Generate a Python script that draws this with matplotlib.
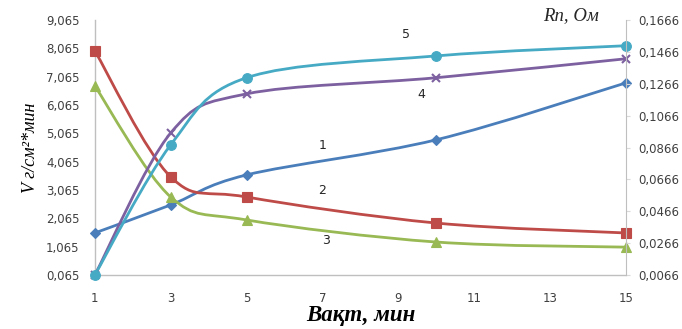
import matplotlib
matplotlib.use("Agg")
import matplotlib.pyplot as plt
from matplotlib.path import Path
from matplotlib.patches import PathPatch
import numpy as np

# --- данные ---------------------------------------------------------------
t = [1, 3, 5, 10, 15]
v1 = [1.55, 2.54, 3.60, 4.84, 6.85]
v2 = [7.98, 3.53, 2.82, 1.90, 1.55]
v3 = [6.74, 2.82, 2.01, 1.23, 1.05]
v4 = [0.065, 5.08, 6.46, 7.03, 7.70]
v5 = [0.065, 4.66, 7.03, 7.80, 8.16]

series = [
    ("1", v1, "#4A7EBB", "D", 5),
    ("2", v2, "#BE4B48", "s", 6.5),
    ("3", v3, "#98B954", "^", 6.5),
    ("4", v4, "#7D60A0", "x", 6),
    ("5", v5, "#46AAC5", "o", 7),
]
# подписи кривых: (номер, t, V)
labels_pos = [("5", 9.2, 8.55), ("4", 9.6, 6.45), ("1", 7.0, 4.65),
              ("2", 7.0, 3.05), ("3", 7.1, 1.30)]

left_ticks = [0.065 + i for i in range(10)]
right_ticks = [0.0066 + 0.02 * i for i in range(9)]


def smooth_path(x, y):
    # сглаженная линия как в Excel: кривые Безье по Катмулл-Рому
    p = np.column_stack([x, y]).astype(float)
    pts = [p[0]]
    codes = [Path.MOVETO]
    n = len(p)
    for i in range(n - 1):
        p0 = p[i - 1] if i > 0 else p[i]
        p3 = p[i + 2] if i + 2 < n else p[i + 1]
        c1 = p[i] + (p[i + 1] - p0) / 6.0
        c2 = p[i + 1] - (p3 - p[i]) / 6.0
        pts += [c1, c2, p[i + 1]]
        codes += [Path.CURVE4] * 3
    return Path(pts, codes)


fig = plt.figure(figsize=(6.82, 3.29), dpi=100)
ax = fig.add_axes([0.139, 0.164, 0.779, 0.775])

for name, vals, col, mk, ms in series:
    ax.add_patch(PathPatch(smooth_path(t, vals), fill=False, edgecolor=col,
                           lw=2.0, zorder=3))
    ax.plot(t, vals, ls="none", marker=mk, ms=ms, color=col,
            mec=col, mew=1.5 if mk == "x" else 0.8, zorder=4, clip_on=False)

for txt, xx, yy in labels_pos:
    ax.text(xx, yy, txt, fontsize=9, color="#262626", ha="center", va="center")

ax.set_xlim(1, 15)
ax.set_ylim(0.065, 9.065)
ax.set_xticks(range(1, 16, 2))
ax.set_yticks(left_ticks)
ax.set_yticklabels([f"{v:.3f}".replace(".", ",") for v in left_ticks])

for s in ["top", "right"]:
    ax.spines[s].set_visible(False)
for s in ["left", "bottom"]:
    ax.spines[s].set_color("#BFBFBF")
    ax.spines[s].set_linewidth(1.0)
ax.tick_params(axis="both", length=0, labelsize=8.5, labelcolor="#404040")
ax.tick_params(axis="y", pad=11)
ax.tick_params(axis="x", pad=12)

ax2 = ax.twinx()
ax2.set_ylim(0.0066, 0.1666)
ax2.set_yticks(right_ticks)
ax2.set_yticklabels([f"{v:.4f}".replace(".", ",") for v in right_ticks])
for s in ["top", "left", "bottom"]:
    ax2.spines[s].set_visible(False)
ax2.spines["right"].set_color("#BFBFBF")
ax2.tick_params(axis="y", length=3, color="#D9D9D9", labelsize=8.5,
                labelcolor="#404040", pad=6)

ax.set_ylabel("V г/см²*мин", fontsize=13, fontstyle="italic",
              family="Liberation Serif", labelpad=5)
ax.set_xlabel("Вақт, мин", fontsize=16.5, fontstyle="italic", fontweight="bold",
              family="Liberation Serif", labelpad=0)
fig.text(0.837, 0.953, "Rп, Ом", fontsize=13.5, fontstyle="italic",
         family="Liberation Serif", ha="center", va="center", color="#262626")

fig.savefig("out.png", dpi=100)
